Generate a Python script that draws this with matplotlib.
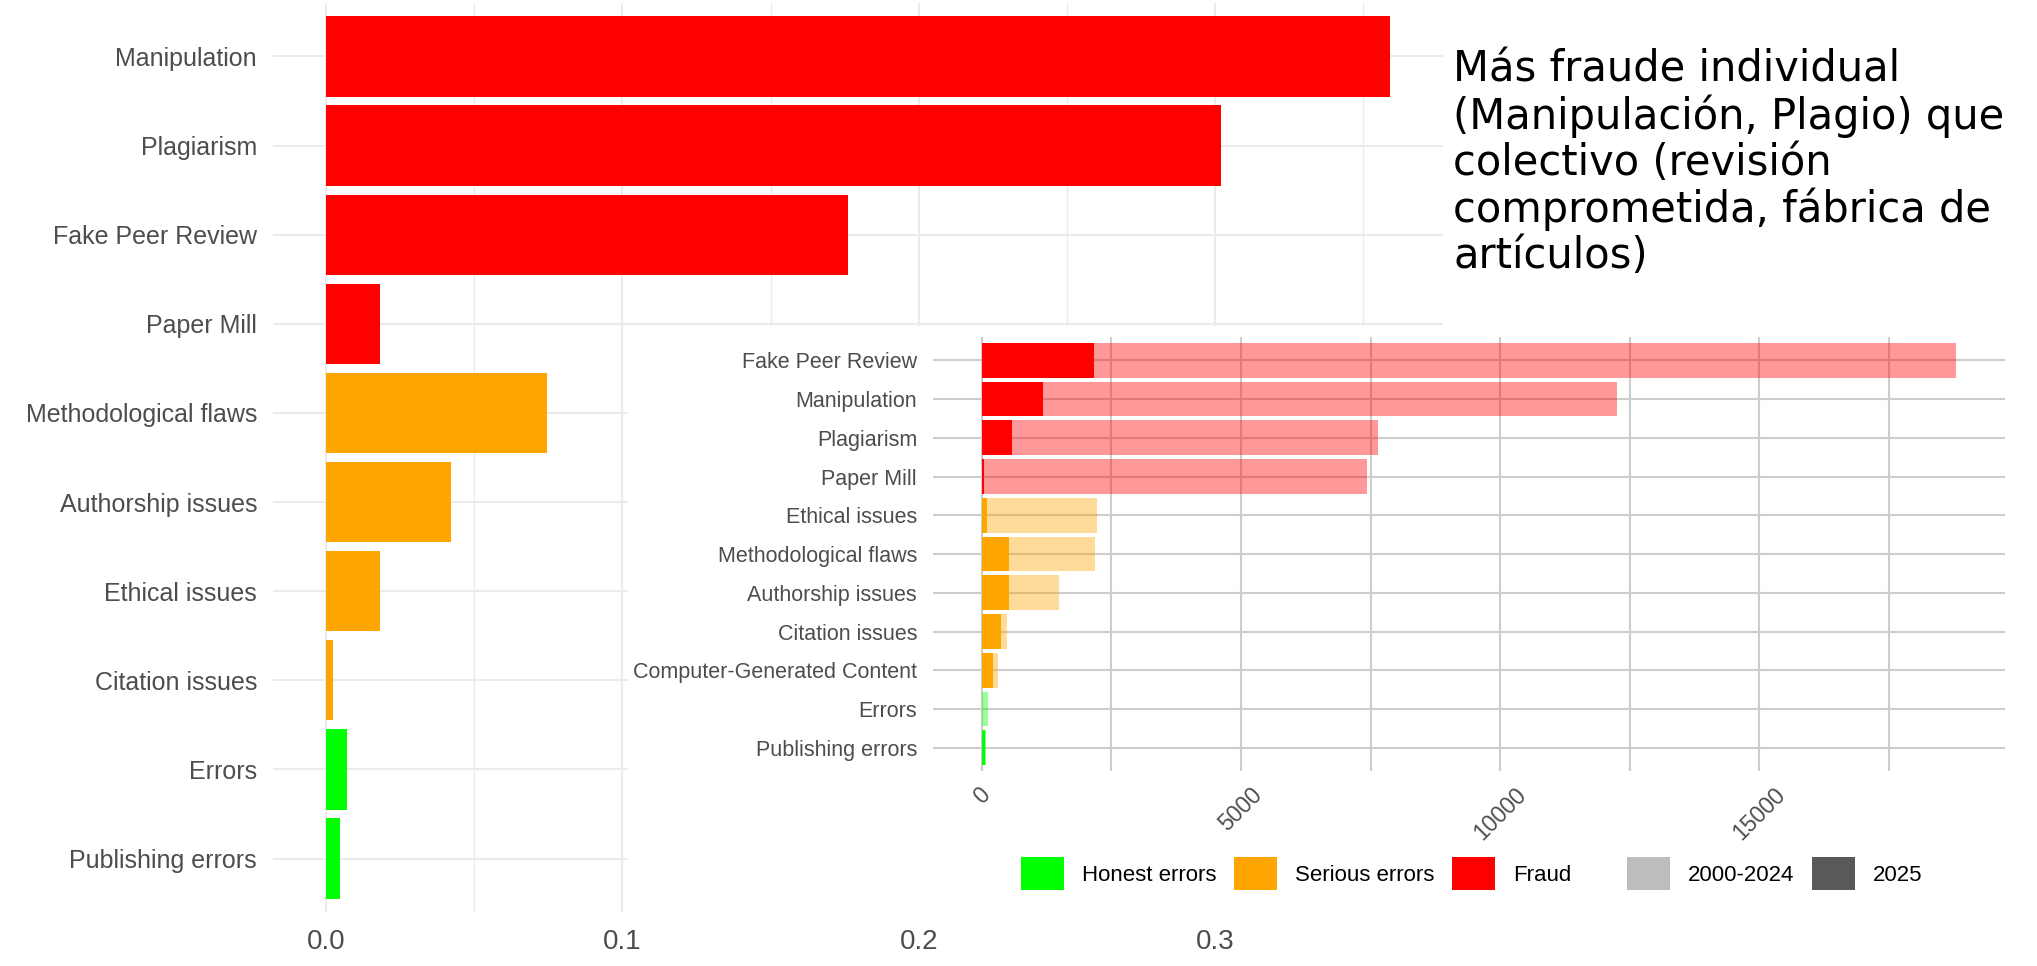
import numpy as np
import matplotlib.pyplot as plt
from matplotlib.patches import Patch

# Panel principal: proporción por motivo (de arriba a abajo)
main_labels = ['Manipulation', 'Plagiarism', 'Fake Peer Review', 'Paper Mill',
               'Methodological flaws', 'Authorship issues', 'Ethical issues',
               'Citation issues', 'Errors', 'Publishing errors']
main_values = [0.359, 0.302, 0.176, 0.018, 0.0745, 0.042, 0.018, 0.0023, 0.0071, 0.0047]
main_groups = ['Fraud', 'Fraud', 'Fraud', 'Fraud',
               'Serious errors', 'Serious errors', 'Serious errors', 'Serious errors',
               'Honest errors', 'Honest errors']
main_xticks = [0.0, 0.1, 0.2, 0.3]

# Recuadro: número de retractaciones, 2025 vs 2000-2024
inset_labels = ['Fake Peer Review', 'Manipulation', 'Plagiarism', 'Paper Mill',
                'Ethical issues', 'Methodological flaws', 'Authorship issues',
                'Citation issues', 'Computer-Generated Content', 'Errors',
                'Publishing errors']
inset_2025 = [2160, 1180, 580, 50, 100, 520, 520, 375, 215, 5, 70]
inset_2000_2024 = [16640, 11080, 7060, 7380, 2120, 1660, 970, 110, 105, 125, 5]
inset_groups = ['Fraud', 'Fraud', 'Fraud', 'Fraud',
                'Serious errors', 'Serious errors', 'Serious errors',
                'Serious errors', 'Serious errors', 'Honest errors', 'Honest errors']
inset_xticks = [0, 5000, 10000, 15000]

group_order = ['Honest errors', 'Serious errors', 'Fraud']
group_colors = {'Honest errors': '#00FF00', 'Serious errors': '#FFA500', 'Fraud': '#FF0000'}
period_labels = ['2000-2024', '2025']
period_colors = ['#BDBDBD', '#595959']

note = ("Más fraude individual\n(Manipulación, Plagio) que\ncolectivo (revisión\n"
        "comprometida, fábrica de\nartículos)")

W, H = 2037, 966
AXIS_TXT = '#4D4D4D'
plt.rcParams['font.family'] = ['Liberation Sans', 'DejaVu Sans']

fig = plt.figure(figsize=(W / 100, H / 100), dpi=100)
fig.patch.set_facecolor('white')


def px_axes(left, top, right, bottom, **kw):
    return fig.add_axes([left / W, 1 - bottom / H, (right - left) / W, (bottom - top) / H], **kw)


# --- panel principal ---
ax = px_axes(273, 3, 1443, 912)
y = np.arange(len(main_labels))
ax.barh(y, main_values, height=0.9, color=[group_colors[g] for g in main_groups], zorder=2)
vmax = max(main_values)
ax.set_xlim(-0.05 * vmax, 1.05 * vmax)
ax.set_ylim(len(main_labels) - 0.4, -0.6)
ax.set_yticks(y)
ax.set_yticklabels(main_labels)
ax.set_xticks(main_xticks)
ax.set_xticklabels([f'{v:.1f}' for v in main_xticks])
ax.set_xticks(np.arange(0.05, 1.05 * vmax, 0.1), minor=True)
ax.grid(which='major', color='#EBEBEB', lw=1.5, zorder=0)
ax.grid(which='minor', axis='x', color='#EBEBEB', lw=1.0, zorder=0)
ax.set_axisbelow(True)
for s in ax.spines.values():
    s.set_visible(False)
ax.tick_params(which='both', length=0)
ax.tick_params(axis='y', labelsize=18, labelcolor=AXIS_TXT, pad=11.5)
ax.tick_params(axis='x', labelsize=20, labelcolor=AXIS_TXT, pad=12)

# --- recuadro blanco del gráfico insertado ---
box = px_axes(628, 326, W, 916)
box.set_facecolor('white')
box.set_xticks([])
box.set_yticks([])
for s in box.spines.values():
    s.set_visible(False)

ax2 = px_axes(933, 337, 2005, 771)
ax2.set_facecolor('none')
yi = np.arange(len(inset_labels))
cols = [group_colors[g] for g in inset_groups]
ax2.barh(yi, inset_2025, height=0.9, color=cols, zorder=3)
ax2.barh(yi, inset_2000_2024, left=inset_2025, height=0.9, color=cols, alpha=0.4,
         lw=0, zorder=3)
tot_max = max(a + b for a, b in zip(inset_2025, inset_2000_2024))
ax2.set_xlim(-0.05 * tot_max, 1.05 * tot_max)
ax2.set_ylim(len(inset_labels) - 0.4, -0.6)
ax2.set_yticks(yi)
ax2.set_yticklabels(inset_labels)
ax2.set_xticks(inset_xticks)
ax2.set_xticklabels([str(v) for v in inset_xticks], rotation=45, ha='center')
ax2.set_xticks(np.arange(2500, 1.05 * tot_max, 5000), minor=True)
ax2.grid(which='both', color='#CDCDCD', lw=1.5, zorder=0)
ax2.set_axisbelow(True)
for s in ax2.spines.values():
    s.set_visible(False)
ax2.tick_params(which='both', length=0)
ax2.tick_params(axis='y', labelsize=15.5, labelcolor=AXIS_TXT, pad=11.5)
ax2.tick_params(axis='x', labelsize=16.5, labelcolor=AXIS_TXT, pad=9)

# leyendas
h1 = [Patch(facecolor=group_colors[g], edgecolor='none') for g in group_order]
h2 = [Patch(facecolor=c, edgecolor='none') for c in period_colors]
leg_kw = dict(frameon=False, fontsize=16, handlelength=1.94, handleheight=1.94,
              handletextpad=0.8, columnspacing=0.8, borderpad=0, borderaxespad=0,
              loc='upper left', bbox_transform=fig.transFigure)
leg1 = ax2.legend(h1, group_order, ncol=3, bbox_to_anchor=(1021 / W, 1 - 857 / H), **leg_kw)
ax2.add_artist(leg1)
ax2.legend(h2, period_labels, ncol=2, bbox_to_anchor=(1627 / W, 1 - 857 / H), **leg_kw)

# nota
fig.text(1453 / W, 1 - 48 / H, note, ha='left', va='top', fontsize=30,
         family='DejaVu Sans', color='black', linespacing=1.12)

fig.savefig('out.png', dpi=100, facecolor='white')
